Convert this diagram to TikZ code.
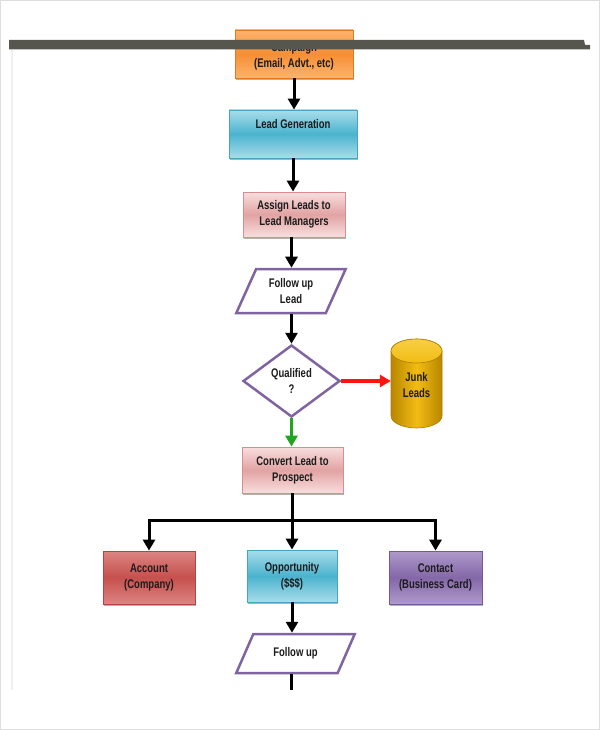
\documentclass[tikz,border=0pt]{standalone}
\usepackage{fontspec}
\setmainfont{Liberation Sans}[FakeStretch=0.76]
\usetikzlibrary{arrows.meta,shapes.geometric,shadows}
\definecolor{orglt}{HTML}{FBB46E}
\definecolor{orgdk}{HTML}{F68E34}
\definecolor{orgbd}{HTML}{E07A20}
\definecolor{bluelt}{HTML}{A8DDEA}
\definecolor{bluedk}{HTML}{4AB3CE}
\definecolor{bluebd}{HTML}{46A5BF}
\definecolor{pinklt}{HTML}{F8DEDE}
\definecolor{pinkdk}{HTML}{E2A3A3}
\definecolor{pinkbd}{HTML}{D88E8E}
\definecolor{redlt}{HTML}{DC8583}
\definecolor{reddk}{HTML}{C6504D}
\definecolor{redbd}{HTML}{B54542}
\definecolor{purlt}{HTML}{AE9ACA}
\definecolor{purdk}{HTML}{8467A8}
\definecolor{purbd}{HTML}{74589A}
\definecolor{purline}{HTML}{8064A2}
\definecolor{golddk}{HTML}{B88600}
\definecolor{goldmd}{HTML}{F2BC12}
\definecolor{goldlt}{HTML}{F7CF45}
\definecolor{goldbd}{HTML}{B07D00}
\definecolor{barcol}{HTML}{56564F}
\definecolor{txtcol}{HTML}{1C1C1C}
\definecolor{arrred}{HTML}{FF1414}
\definecolor{arrgreen}{HTML}{1FA51F}
\begin{document}
\begin{tikzpicture}[x=1pt,y=-1pt,
  every node/.style={font=\bfseries\fontsize{12.5}{16}\selectfont, text=txtcol, align=center, inner sep=0pt},
  boxbase/.style={rectangle, line width=0.8pt,
    drop shadow={shadow xshift=1.2pt, shadow yshift=-1.8pt, opacity=0.5, fill=black!60}},
  boxorange/.style={boxbase, draw=orgbd, top color=orglt, bottom color=orglt, middle color=orgdk},
  boxblue/.style={boxbase, draw=bluebd, top color=bluelt, bottom color=bluelt, middle color=bluedk},
  boxpink/.style={boxbase, draw=pinkbd, top color=pinklt, bottom color=pinklt, middle color=pinkdk},
  boxred/.style={boxbase, draw=redbd, top color=redlt, bottom color=redlt, middle color=reddk},
  boxpurple/.style={boxbase, draw=purbd, top color=purlt, bottom color=purlt, middle color=purdk},
  para/.style={trapezium, trapezium stretches=true, draw=purline, line width=2.5pt, fill=white},
  decision/.style={diamond, draw=purline, line width=2.5pt, fill=white},
  arr/.style={line width=3pt, -{Triangle[width=12pt,length=11pt]}},
  plainline/.style={line width=3pt}
]
\useasboundingbox (0,0) rectangle (600,730);
% page frame
\draw[black!13, line width=1pt] (0.5,0.5) rectangle (599.5,729.5);
\draw[black!6, line width=2pt] (12,50) -- (12,690);

% boxes
\node[boxorange, minimum width=118, minimum height=48] (camp) at (294,54) {};
\node (camptext) at (294,56.5) {Campaign\\(Email, Advt., etc)};

\node[boxblue, minimum width=128, minimum height=48] (lg) at (293,134) {};
\node (lgtext) at (293,124) {Lead Generation};

\node[boxpink, minimum width=102, minimum height=45] (asg) at (294,214.5) {Assign Leads to\\Lead Managers};

\node[para, trapezium left angle=63.4, trapezium right angle=116.6,
      minimum width=110, minimum height=44] (fu1) at (291,291) {Follow up\\Lead};

\node[decision, aspect=1.35, minimum width=97, minimum height=72] (q) at (291.5,381) {Qualified\\?};

% junk leads cylinder
\node[rectangle, minimum width=51, minimum height=89] (junk) at (416.5,383.5) {};
\shade[left color=golddk, right color=golddk, middle color=goldmd, draw=goldbd, line width=0.6pt]
  (391,351) -- (391,416) arc[start angle=180, end angle=360, x radius=25.5pt, y radius=12pt]
  -- (442,351) arc[start angle=0, end angle=180, x radius=25.5pt, y radius=12pt] -- cycle;
\shade[top color=goldlt, bottom color=goldmd, draw=goldbd, line width=0.6pt]
  (416.5,351) ellipse [x radius=25.5pt, y radius=12pt];
\node (junktext) at (416.5,385) {Junk\\Leads};

\node[boxpink, minimum width=101, minimum height=46] (conv) at (292.5,470) {Convert Lead to\\Prospect};

\node[boxred, minimum width=92, minimum height=53] (acc) at (149,577.5) {Account\\(Company)};
\node[boxblue, minimum width=90, minimum height=52] (opp) at (292,576) {Opportunity\\(\$\$\$)};
\node[boxpurple, minimum width=93, minimum height=53] (con) at (435.5,577.5) {Contact\\(Business Card)};

\node[para, trapezium left angle=52.4, trapezium right angle=127.6,
      minimum width=119, minimum height=39] (fu2) at (295.5,653.5) {Follow up};

\coordinate (bj) at (292,520);
\coordinate (endc) at (291,690);

% connectors
\draw[arr] (camp.south) -- (camp.south |- lg.north);
\draw[arr] (lg.south) -- (lg.south |- asg.north);
\draw[arr] (asg.south -| q) -- (q |- fu1.north);
\draw[arr] (q |- fu1.south) -- (q.north);
\draw[arr, arrred, line width=3.5pt] (q.east) -- (q.east -| junk.west);
\draw[arr, arrgreen] (q.south) -- (q.south |- conv.north);
\draw[plainline] (conv.south -| bj) -- (bj);
\draw[arr] (bj) -| (acc.north);
\draw[arr] (bj) -| (con.north);
\draw[arr] (bj) -- (opp.north);
\draw[arr] (opp.south) -- (opp.south |- fu2.north);
\draw[plainline] (endc |- fu2.south) -- (endc);

% dark bar over the top
\fill[barcol] (9,40) -- (584,40) -- (585,45) -- (590,45) -- (590,49.3) -- (9,49.3) -- cycle;
\end{tikzpicture}
\end{document}
